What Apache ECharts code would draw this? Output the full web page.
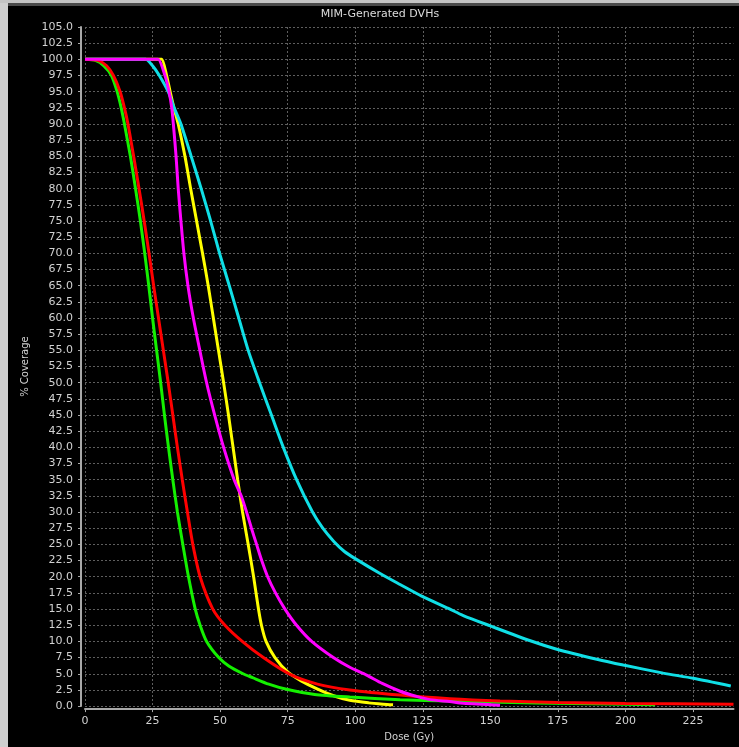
<!DOCTYPE html>
<html>
<head>
<meta charset="utf-8">
<script src="https://cdn.jsdelivr.net/npm/echarts@6/dist/echarts.min.js"></script>
<style>
html,body{margin:0;padding:0;background:#c8c8c8;}
#chart{width:739px;height:747px;}
</style>
</head>
<body>
<div id="chart"></div>
<script>
// ---- Data (dose in Gy, % coverage) ----
var title = "MIM-Generated DVHs";
var xAxisName = "Dose (Gy)";
var yAxisName = "% Coverage";

var greenDose = [0, 4, 7, 9.8, 11.9, 13.4, 14.6, 16.8, 18.7, 20.5, 22.1, 23.6, 25, 26.5, 28, 29.4, 30.9, 32.5, 34.2, 36.2, 38.3, 40.8, 42.6, 45, 49.5, 53.2, 58.5, 62, 68, 74.6, 85, 98, 116.6, 135, 153.6, 180, 211];
var greenCov  = [100, 99.8, 99, 97.5, 95, 92.5, 90, 85, 80, 75, 70, 65, 60, 55, 50, 45, 40, 35, 30, 25, 20, 15, 12.5, 10, 7.5, 6.2, 5, 4.4, 3.4, 2.6, 1.8, 1.4, 1.0, 0.77, 0.6, 0.4, 0.2];

var redDose = [0, 5, 8, 10.5, 13, 14.6, 15.9, 18, 20, 21.9, 23.7, 25.4, 27.2, 29, 30.8, 32.5, 34.2, 36, 37.9, 39.9, 42.6, 47.3, 51.8, 58.2, 66, 75.9, 86, 98, 116.6, 135, 153.6, 175, 200, 240];
var redCov  = [100, 99.8, 99, 97.5, 95, 92.5, 90, 85, 80, 75, 70, 65, 60, 55, 50, 45, 40, 35, 30, 25, 20, 15, 12.5, 10, 7.5, 4.9, 3.4, 2.5, 1.7, 1.15, 0.8, 0.55, 0.4, 0.3];

var yellowDose = [0, 27.4, 28.4, 30.2, 31.5, 32.9, 34.5, 37, 39.1, 41.3, 43.5, 45.6, 47.5, 49.4, 51.3, 53.1, 54.8, 56.5, 58.3, 60.4, 62.4, 64.2, 65.3, 67, 70.3, 75.2, 80, 85.7, 92, 98, 105, 110.4, 114];
var yellowCov  = [100, 100, 100, 97.5, 95, 92.5, 90, 85, 80, 75, 70, 65, 60, 55, 50, 45, 40, 35, 30, 25, 20, 15, 12.5, 10, 7.5, 5.2, 3.9, 2.7, 1.6, 0.9, 0.5, 0.3, 0.2];

var magentaDose = [0, 26.2, 27.1, 29.6, 31.1, 32.1, 32.7, 33.7, 34.5, 35.5, 36.6, 38.1, 40.1, 42.5, 45, 48, 51.3, 55.2, 58, 59.8, 61.6, 63.5, 65.4, 67.6, 70.5, 74, 78.3, 83.9, 91.9, 98, 104.2, 110, 116.6, 122.7, 127.7, 135, 140, 153.6];
var magentaCov  = [100, 100, 100, 97.5, 95, 92.5, 90, 85, 80, 75, 70, 65, 60, 55, 50, 45, 40, 35, 32.3, 30, 27.5, 25, 22.5, 20, 17.5, 15, 12.5, 10, 7.5, 6, 4.8, 3.5, 2.3, 1.5, 1.0, 0.7, 0.45, 0.15];

var cyanDose = [0, 21.5, 22.5, 25, 27.5, 30.8, 33, 35.5, 39.3, 43, 46.5, 49.8, 53.4, 56.9, 60.4, 64.6, 69, 73.4, 78.3, 84.2, 88, 92, 96, 100, 109.2, 116.6, 124.6, 134.5, 140, 150, 164.8, 174.6, 189.4, 199.2, 214, 225.1, 239];
var cyanCov  = [100, 100, 100, 99, 97.5, 95, 92.5, 90, 85, 80, 75, 70, 65, 60, 55, 50, 45, 40, 35, 30, 27.5, 25.5, 23.9, 22.8, 20.5, 18.8, 17, 15.1, 14.0, 12.4, 10.1, 8.8, 7.25, 6.35, 5.1, 4.3, 3.1];

var seriesColors = { green: '#14f000', red: '#ff0000', yellow: '#ffff00', magenta: '#ff00ff', cyan: '#10dfe6' };

function zip(xs, ys) { return xs.map(function (x, i) { return [x, ys[i]]; }); }

function makeSeries(name, dose, cov, color, z) {
  return {
    name: name, type: 'line', data: zip(dose, cov),
    showSymbol: false, smooth: 0.25, z: z,
    lineStyle: { color: color, width: 3 }, itemStyle: { color: color }
  };
}

var chart = echarts.init(document.getElementById('chart'));
var labelFont = { color: '#d2d2d2', fontFamily: 'DejaVu Sans', fontSize: 11 };

chart.setOption({
  backgroundColor: '#000',
  animation: false,
  title: {
    text: title, left: 375, top: 4, textAlign: 'center',
    textStyle: { color: '#dcdcdc', fontFamily: 'DejaVu Sans', fontSize: 11, fontWeight: 'normal' }
  },
  graphic: [
    { type: 'rect', shape: { x: 0, y: 0, width: 8, height: 747 }, style: { fill: '#cfcfcf' }, silent: true },
    { type: 'rect', shape: { x: 0, y: 0, width: 739, height: 3 }, style: { fill: '#c4c4c4' }, silent: true },
    { type: 'rect', shape: { x: 8, y: 3, width: 731, height: 3 }, style: { fill: '#4a4a4a' }, silent: true }
  ],
  grid: { left: 85, top: 27, width: 648.5, height: 683, containLabel: false },
  xAxis: {
    type: 'value', min: 0, max: 240, interval: 25, offset: 3,
    name: xAxisName, nameLocation: 'middle', nameGap: 20,
    nameTextStyle: { color: '#d2d2d2', fontFamily: 'DejaVu Sans', fontSize: 10 },
    axisLine: { show: true, onZero: false, lineStyle: { color: '#a8a8a8', width: 2 } },
    axisTick: { show: true, length: 3, lineStyle: { color: '#a8a8a8' } },
    axisLabel: Object.assign({ margin: 7, showMaxLabel: false }, labelFont),
    splitLine: { show: true, showMaxLine: false, lineStyle: { color: '#5e5e5e', type: [2, 2], width: 1 } }
  },
  yAxis: {
    type: 'value', min: 0, max: 105, interval: 2.5, offset: 4,
    name: yAxisName, nameLocation: 'middle', nameGap: 47, nameRotate: 90,
    nameTextStyle: { color: '#d2d2d2', fontFamily: 'DejaVu Sans', fontSize: 10 },
    axisLine: { show: true, onZero: false, lineStyle: { color: '#a8a8a8', width: 2 } },
    axisTick: { show: true, length: 3, lineStyle: { color: '#a8a8a8' } },
    axisLabel: Object.assign({ margin: 8, formatter: function (v) { return v.toFixed(1); } }, labelFont),
    splitLine: { show: true, lineStyle: { color: '#5e5e5e', type: [2, 2], width: 1 } }
  },
  series: [
    makeSeries('Yellow', yellowDose, yellowCov, seriesColors.yellow, 2),
    makeSeries('Cyan', cyanDose, cyanCov, seriesColors.cyan, 3),
    makeSeries('Green', greenDose, greenCov, seriesColors.green, 4),
    makeSeries('Red', redDose, redCov, seriesColors.red, 5),
    makeSeries('Magenta', magentaDose, magentaCov, seriesColors.magenta, 6)
  ]
});
</script>
</body>
</html>
